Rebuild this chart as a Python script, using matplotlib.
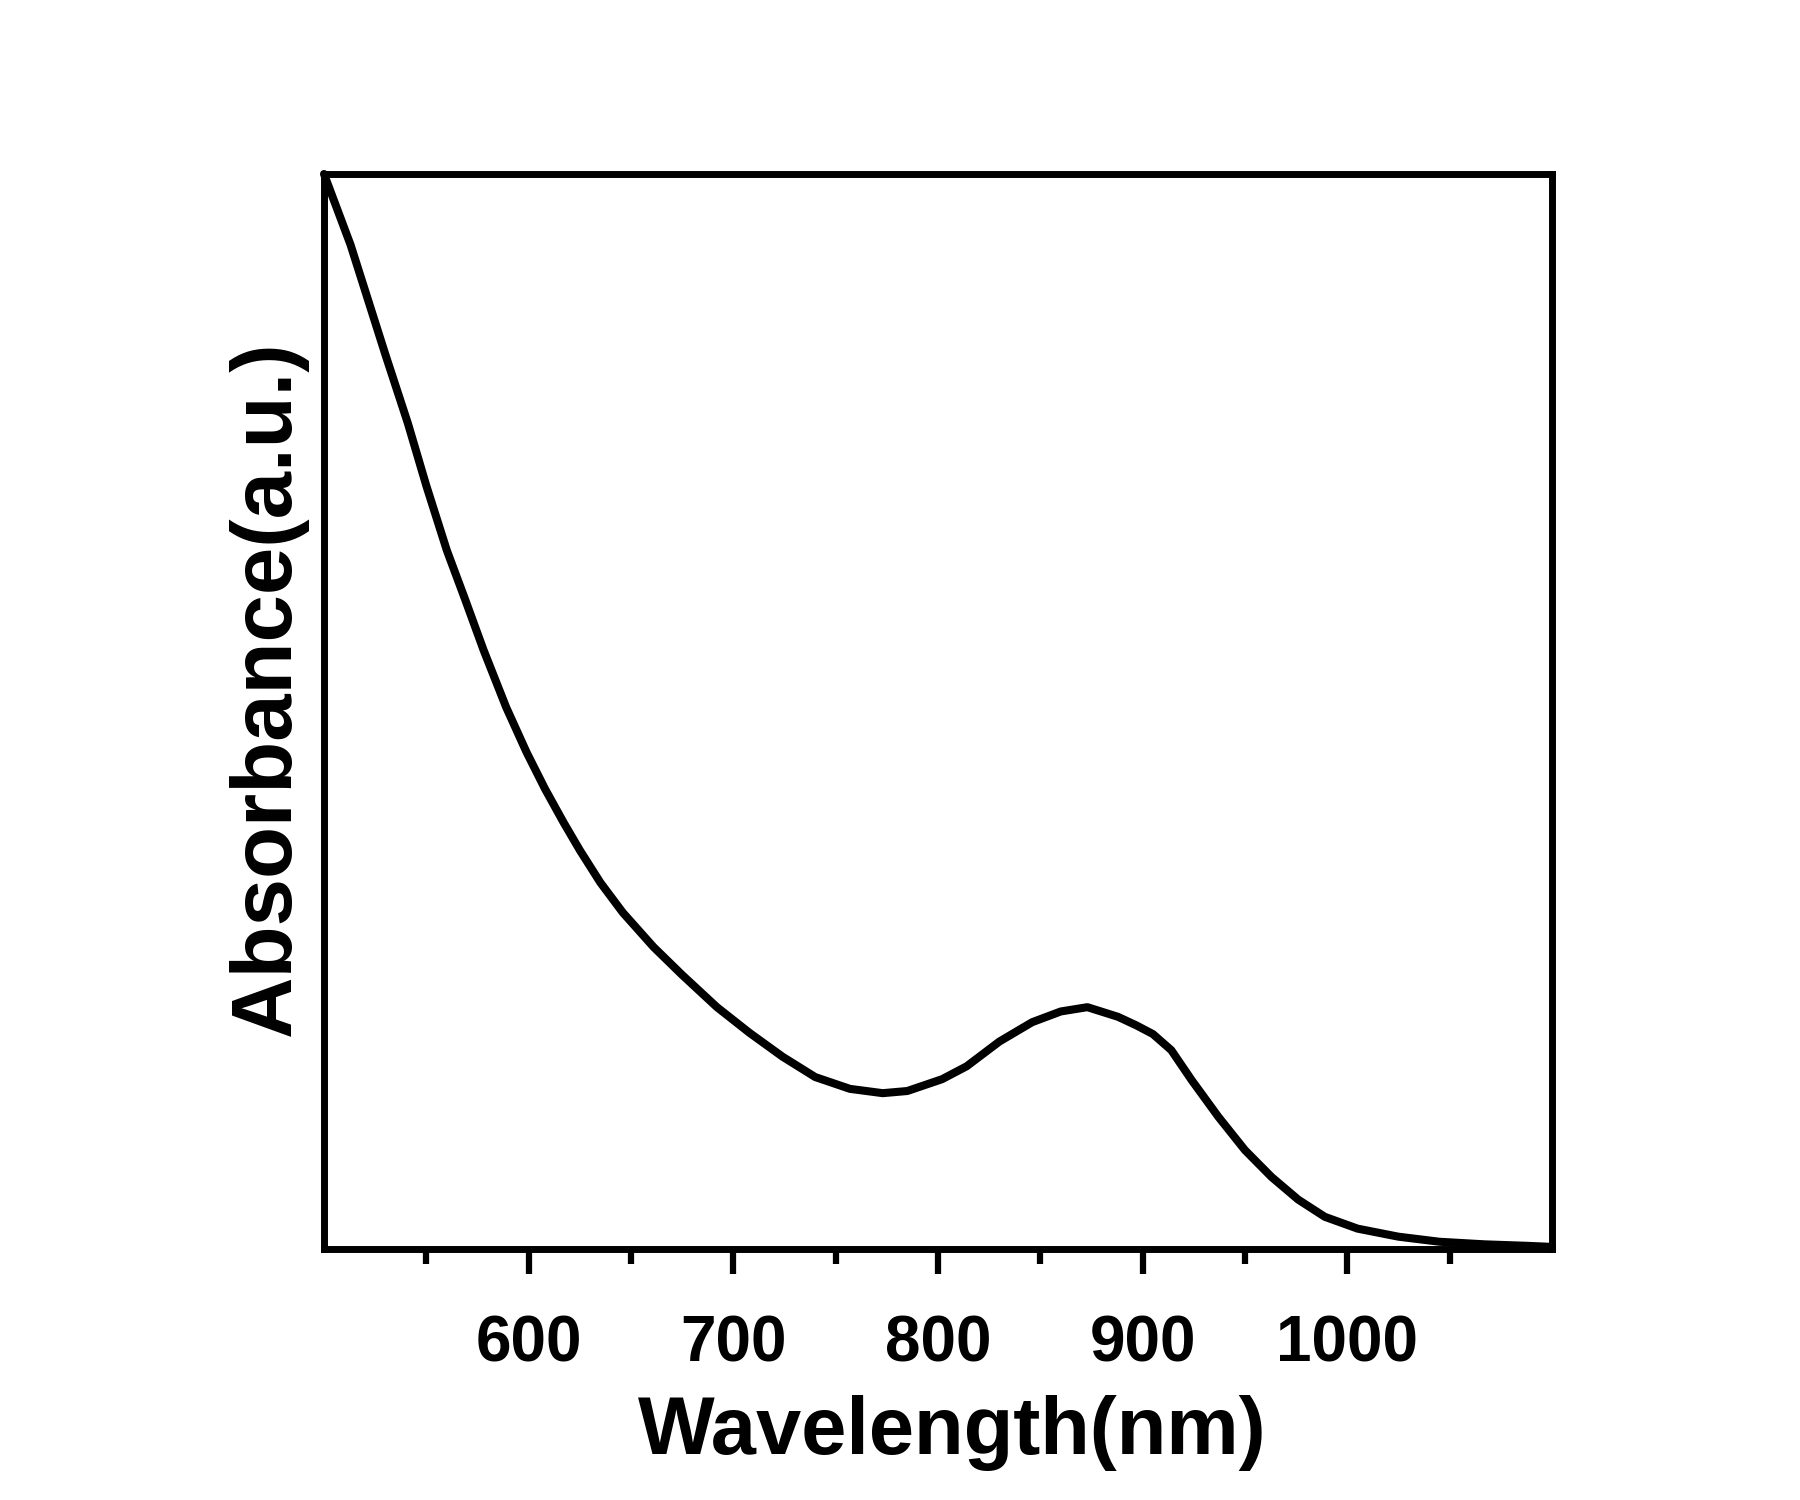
import matplotlib
matplotlib.use("Agg")
import matplotlib.pyplot as plt

# -------------------------
# Absorbance spectrum (normalised, a.u.)
# -------------------------
wavelength = [500, 513, 521, 530, 541, 550, 560, 569, 578, 589, 599, 608,
              617, 625, 635, 646, 661, 675, 692, 708, 724, 740, 757, 773,
              785, 802, 814, 830, 846, 860, 873, 888, 897, 905, 914, 924,
              937, 950, 963, 976, 989, 1005, 1025, 1045, 1067, 1088, 1100]
absorbance = [1.0, 0.934, 0.886, 0.832, 0.768, 0.710, 0.650, 0.604, 0.557,
              0.504, 0.462, 0.428, 0.397, 0.371, 0.341, 0.313, 0.281, 0.255,
              0.225, 0.201, 0.179, 0.160, 0.149, 0.145, 0.147, 0.158, 0.170,
              0.193, 0.211, 0.221, 0.225, 0.216, 0.208, 0.200, 0.185, 0.157,
              0.123, 0.092, 0.067, 0.046, 0.030, 0.019, 0.0115, 0.0068,
              0.0044, 0.003, 0.002]

major_ticks = [600, 700, 800, 900, 1000]
minor_ticks = [550, 650, 750, 850, 950, 1050]

plt.rcParams["font.family"] = ["Liberation Sans", "DejaVu Sans"]
plt.rcParams["font.weight"] = "bold"

fig = plt.figure(figsize=(18, 15), dpi=100)
ax = fig.add_axes([0.18, 0.1673, 0.6822, 0.7167])

ax.plot(wavelength, absorbance, color="black", linewidth=5.8, clip_on=False,
        solid_joinstyle="round", solid_capstyle="round")

ax.set_xlim(500, 1100)
ax.set_ylim(0, 1)

# -------------------------
# Axes styling
# -------------------------
for spine in ax.spines.values():
    spine.set_linewidth(5)

ax.set_xticks(major_ticks)
ax.set_xticks(minor_ticks, minor=True)
ax.set_yticks([])
ax.tick_params(axis="x", which="major", direction="out", length=18, width=4.5,
               labelsize=46, pad=29)
ax.tick_params(axis="x", which="minor", direction="out", length=11, width=4.5)
for lbl in ax.get_xticklabels():
    lbl.set_fontweight("bold")

ax.set_xlabel("Wavelength(nm)", fontsize=58.5, fontweight="bold")
ax.set_ylabel("Absorbance(a.u.)", fontsize=61.3, fontweight="bold")
ax.xaxis.set_label_coords(0.512, -0.136)
ax.yaxis.set_label_coords(-0.013, 0.5215)

fig.savefig("out.png", dpi=100, facecolor="white")
